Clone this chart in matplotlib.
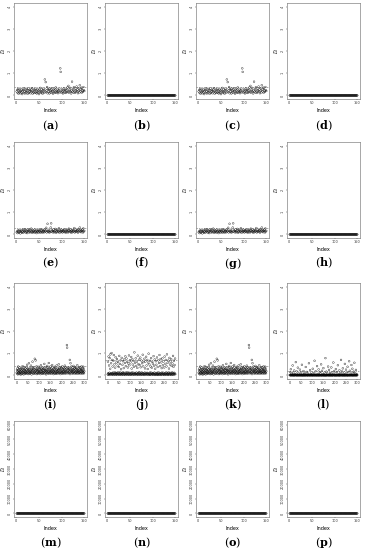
import matplotlib
matplotlib.use("Agg")
import matplotlib.pyplot as plt

plt.rcParams['mathtext.fontset'] = 'dejavuserif'

# ---------------- data (values in hundredths) ----------------
a_vals = [18, 25, 12, 30, 8, 22, 15, 27, 10, 20,
          14, 28, 6, 19, 24, 11, 32, 17, 9, 26,
          21, 13, 29, 16, 7, 23, 31, 12, 18, 25,
          10, 20, 27, 15, 33, 8, 22, 14, 26, 11,
          19, 30, 12, 24, 9, 17, 28, 13, 21, 6,
          25, 16, 34, 11, 20, 27, 14, 8, 23, 30,
          18, 12, 72, 26, 60, 15, 22, 38, 10, 29,
          17, 24, 9, 31, 14, 21, 27, 12, 19, 33,
          8, 25, 16, 22, 11, 28, 36, 13, 20, 15,
          26, 10, 23, 18, 30, 14, 122, 106, 21, 12,
          27, 16, 9, 24, 32, 19, 13, 25, 11, 22,
          29, 15, 36, 18, 43, 12, 26, 21, 34, 16,
          9, 23, 62, 17, 28, 13, 37, 20, 11, 31,
          24, 15, 40, 19, 27, 10, 33, 22, 14, 46,
          26, 18, 35, 12, 29, 21, 16, 38, 24, 20]

e_vals = [10, 15, 6, 18, 12, 8, 20, 14, 5, 16,
          11, 19, 7, 13, 22, 9, 17, 12, 24, 15,
          8, 18, 13, 6, 21, 16, 10, 23, 14, 9,
          19, 12, 26, 15, 7, 20, 11, 17, 13, 8,
          22, 14, 10, 18, 6, 16, 12, 21, 9, 15,
          13, 19, 8, 24, 11, 17, 14, 7, 20, 12,
          16, 10, 22, 13, 18, 30, 9, 15, 48, 12,
          20, 14, 8, 17, 11, 31, 50, 13, 19, 10,
          15, 22, 9, 16, 12, 25, 18, 7, 14, 21,
          11, 17, 13, 28, 8, 19, 15, 10, 22, 12,
          16, 9, 20, 14, 18, 11, 23, 13, 7, 17,
          12, 21, 15, 9, 19, 26, 11, 16, 13, 22,
          8, 18, 14, 10, 20, 12, 17, 29, 9, 15,
          21, 13, 11, 19, 16, 8, 24, 14, 18, 31,
          12, 20, 10, 17, 15, 22, 9, 27, 13, 16]

i_vals = [12, 25, 8, 31, 18, 5, 22, 40, 14, 9, 28, 16, 35, 7, 20, 11, 26, 4, 17, 30,
          10, 23, 6, 33, 15, 19, 42, 8, 27, 13, 21, 5, 29, 16, 38, 11, 24, 9, 18, 32,
          14, 7, 26, 20, 36, 12, 48, 17, 10, 30, 22, 6, 28, 15, 55, 9, 25, 19, 34, 13,
          8, 21, 16, 44, 11, 27, 5, 31, 18, 24, 62, 14, 37, 10, 29, 20, 7, 35, 16, 26,
          75, 12, 23, 9, 68, 18, 30, 14, 41, 6, 25, 19, 33, 11, 22, 8, 28, 15, 39, 13,
          20, 27, 10, 34, 17, 6, 24, 46, 12, 30, 18, 9, 26, 15, 36, 21, 7, 32, 14, 23,
          11, 29, 52, 16, 8, 25, 19, 38, 13, 22, 5, 31, 17, 27, 10, 43, 20, 14, 35, 9,
          24, 18, 56, 12, 28, 7, 33, 21, 15, 40, 11, 26, 19, 8, 30, 16, 23, 47, 13, 36,
          10, 25, 17, 6, 32, 20, 14, 28, 9, 39, 22, 12, 34, 18, 7, 27, 15, 45, 11, 24,
          19, 8, 31, 14, 26, 21, 50, 10, 29, 16, 35, 12, 23, 6, 38, 18, 27, 13, 33, 9,
          22, 15, 41, 11, 28, 19, 7, 34, 17, 25, 13, 30, 10, 44, 20, 14, 36, 8, 26, 18,
          32, 12, 137, 125, 21, 16, 29, 9, 37, 23, 14, 27, 11, 33, 19, 70, 6, 25, 55, 15,
          30, 17, 40, 10, 24, 20, 13, 35, 8, 28, 18, 43, 12, 26, 16, 31, 9, 22, 38, 14,
          27, 11, 34, 19, 7, 29, 21, 15, 46, 10, 25, 17, 32, 13, 23, 8, 37, 20, 14, 28,
          12, 36, 18, 9, 30, 24, 16, 41, 11, 26, 20, 7, 33, 15, 22, 39, 13, 28, 10, 19]

j_vals = [5, 62, 10, 3, 85, 8, 45, 2, 12, 78, 6, 30, 95, 4, 9, 55, 7, 101, 11, 3,
          70, 8, 40, 5, 13, 66, 2, 92, 10, 6, 50, 4, 14, 35, 7, 82, 3, 11, 58, 9,
          5, 74, 12, 2, 44, 8, 60, 6, 15, 38, 4, 88, 10, 3, 52, 7, 13, 68, 5, 28,
          9, 2, 79, 11, 6, 48, 4, 14, 64, 8, 3, 33, 12, 72, 5, 10, 56, 2, 86, 7,
          42, 13, 6, 76, 4, 9, 61, 3, 15, 36, 8, 54, 5, 11, 90, 2, 46, 7, 12, 69,
          4, 59, 10, 3, 83, 8, 31, 6, 14, 73, 2, 49, 9, 5, 65, 12, 39, 4, 104, 7,
          11, 57, 3, 8, 77, 6, 43, 13, 2, 62, 9, 34, 5, 89, 10, 4, 51, 7, 15, 71,
          3, 47, 12, 6, 80, 2, 37, 9, 5, 67, 14, 4, 55, 8, 11, 93, 3, 41, 7, 60,
          10, 2, 75, 6, 13, 32, 4, 63, 9, 5, 84, 8, 45, 3, 12, 70, 6, 29, 11, 58,
          2, 98, 7, 4, 50, 10, 3, 66, 14, 5, 40, 8, 78, 2, 12, 35, 6, 61, 9, 4,
          53, 11, 3, 87, 7, 44, 5, 13, 72, 2, 30, 10, 6, 64, 4, 48, 9, 3, 81, 12,
          5, 38, 8, 2, 68, 14, 6, 56, 3, 92, 11, 4, 42, 7, 74, 10, 2, 59, 5, 33,
          13, 8, 77, 3, 46, 6, 12, 63, 4, 9, 36, 2, 85, 10, 5, 52, 7, 70, 3, 14,
          41, 6, 95, 11, 4, 57, 8, 2, 67, 13, 5, 31, 9, 79, 3, 12, 49, 6, 62, 10,
          4, 73, 2, 43, 8, 14, 54, 5, 11, 88, 3, 39, 7, 66, 12, 4, 47, 9, 76, 6]

l_vals = [2, 1, 15, 3, 0, 28, 1, 4, 2, 8, 1, 0, 3, 45, 2, 1, 12, 0, 3, 1,
          22, 2, 0, 4, 1, 6, 3, 60, 1, 2, 0, 18, 2, 1, 5, 0, 35, 3, 1, 2,
          9, 1, 0, 3, 2, 26, 1, 4, 0, 2, 14, 1, 3, 0, 48, 2, 1, 7, 0, 3,
          1, 20, 2, 0, 4, 1, 11, 3, 1, 0, 2, 38, 1, 5, 2, 0, 16, 3, 1, 2,
          0, 8, 1, 3, 2, 55, 0, 4, 1, 2, 24, 1, 0, 3, 6, 2, 1, 13, 0, 2,
          3, 1, 30, 0, 2, 4, 1, 10, 2, 0, 66, 1, 3, 2, 0, 19, 1, 5, 2, 1,
          0, 42, 3, 1, 2, 7, 0, 1, 27, 2, 4, 0, 1, 15, 3, 2, 0, 9, 1, 50,
          2, 1, 0, 21, 3, 1, 6, 2, 0, 33, 1, 4, 2, 0, 12, 1, 3, 0, 78, 2,
          1, 0, 17, 2, 4, 1, 0, 8, 3, 2, 40, 1, 0, 2, 25, 1, 3, 0, 11, 2,
          1, 5, 0, 2, 36, 1, 3, 0, 14, 2, 1, 0, 7, 58, 2, 1, 3, 20, 0, 1,
          2, 9, 1, 0, 29, 3, 2, 1, 0, 16, 4, 1, 2, 46, 0, 3, 1, 6, 2, 0,
          23, 1, 2, 0, 11, 3, 1, 70, 2, 0, 4, 18, 1, 2, 0, 32, 1, 3, 7, 0,
          2, 1, 13, 0, 52, 2, 1, 4, 0, 26, 3, 1, 2, 9, 0, 1, 39, 2, 0, 15,
          1, 3, 2, 64, 0, 1, 21, 2, 4, 0, 8, 1, 3, 47, 2, 0, 1, 30, 2, 12,
          0, 1, 3, 17, 2, 0, 57, 1, 4, 2, 10, 0, 1, 25, 3, 2, 0, 6, 1, 2]

flat150 = [0] * 150   # panels whose values all read as zero

thresholds = {"a": 40, "c": 40, "e": 27, "g": 27, "i": 44, "k": 44, "j": 70, "l": 18}

panel_letters = list("abcdefghijklmnop")
panel_series = {"a": a_vals, "b": flat150, "c": a_vals, "d": flat150,
                "e": e_vals, "f": flat150, "g": e_vals, "h": flat150,
                "i": i_vals, "j": j_vals, "k": i_vals, "l": l_vals,
                "m": flat150, "n": flat150, "o": flat150, "p": flat150}

ytick_std = [0, 1, 2, 3, 4]
ytick_std_labels = ["0", "1", "2", "3", "4"]
ytick_row4 = [0, 1, 2, 3, 4, 5, 6]
ytick_row4_labels = ["0", "10000", "20000", "30000", "40000", "50000", "60000"]
xtick_150 = [0, 50, 100, 150]
xtick_300 = [0, 50, 100, 150, 200, 250, 300]

# ---------------- layout ----------------
W, H = 365, 550
fig = plt.figure(figsize=(W / 100, H / 100), dpi=100)

col_left = [14, 105, 196, 287]
col_w = 73
row_top = [3, 142, 283, 421]
row_h = 96
label_y = [126, 263, 405, 543]

for idx, letter in enumerate(panel_letters):
    r, c = divmod(idx, 4)
    left = col_left[c] / W
    bottom = 1 - (row_top[r] + row_h) / H
    ax = fig.add_axes([left, bottom, col_w / W, row_h / H])
    vals = panel_series[letter]
    n = len(vals)
    xs = list(range(1, n + 1))
    ys = [v / 100 for v in vals]
    if r == 3:
        ax.set_ylim(-0.24, 6.24)
        ax.set_yticks(ytick_row4)
        ax.set_yticklabels(ytick_row4_labels)
    else:
        ax.set_ylim(-0.16, 4.16)
        ax.set_yticks(ytick_std)
        ax.set_yticklabels(ytick_std_labels)
    ax.scatter(xs, ys, s=1.6, facecolors='none', edgecolors='black', linewidths=0.25, zorder=3)
    if letter in thresholds:
        ax.axhline(thresholds[letter] / 100, color='#888888', lw=0.5, ls=(0, (2, 1.5)), zorder=2)
    pad = 0.04 * (n - 1)
    ax.set_xlim(1 - pad, n + pad)
    ax.set_xticks(xtick_300 if n == 300 else xtick_150)
    ax.tick_params(axis='both', labelsize=2.5, length=1.0, width=0.3, pad=0.5, colors='#333333')
    for lab in ax.get_yticklabels():
        lab.set_rotation(90)
        lab.set_va('center')
    for s in ax.spines.values():
        s.set_linewidth(0.4)
        s.set_color('#666666')
    ax.set_xlabel("Index", fontsize=3.6, labelpad=2)
    ax.set_ylabel(r"$D_i$", fontsize=3.3, va='center', ha='center')
    ax.yaxis.set_label_coords(-0.145, 0.5)
    cx = (col_left[c] + col_w / 2) / W
    fig.text(cx, 1 - label_y[r] / H, r"(" + r"$\mathbf{" + letter + r"}$" + r")",
             ha='center', va='center', fontsize=8, family='DejaVu Serif')

fig.savefig("out.png", dpi=100)
